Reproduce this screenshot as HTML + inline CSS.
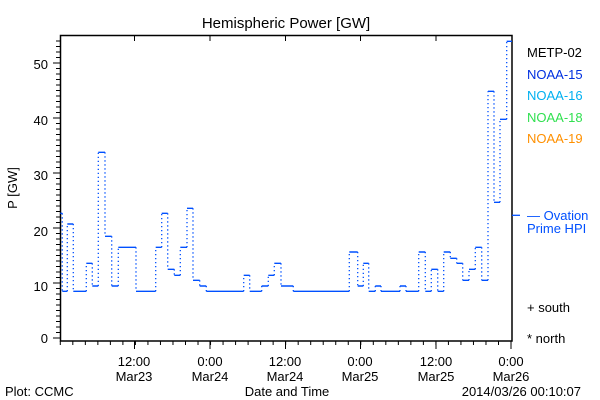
<!DOCTYPE html>
<html><head><meta charset="utf-8"><style>
html,body{margin:0;padding:0;background:#fff;}
svg{display:block;font-family:"Liberation Sans",sans-serif;}
</style></head><body>
<svg width="600" height="400" viewBox="0 0 600 400" xmlns="http://www.w3.org/2000/svg">
<rect width="600" height="400" fill="#fff"/>
<text x="286" y="28" font-size="15" text-anchor="middle">Hemispheric Power [GW]</text>
<rect x="60.5" y="35.5" width="451.5" height="305.5" fill="none" stroke="#000" stroke-width="1.5"/>
<line x1="58" y1="338.5" x2="58" y2="36" stroke="#000" stroke-width="4" stroke-dasharray="1 4.5"/>
<path d="M53 338H60M53 283H60M53 228H60M53 173H60M53 118H60M53 63H60" stroke="#000" stroke-width="1"/>
<line x1="59.8" y1="343" x2="513" y2="343" stroke="#000" stroke-width="4" stroke-dasharray="1 11.52"/>
<path d="M134.5 341V349M210 341V349M285.5 341V349M360.5 341V349M436 341V349M511 341V349M134.5 35V41M210 35V41M285.5 35V41M360.5 35V41M436 35V41" stroke="#000" stroke-width="1"/>
<g font-size="13" text-anchor="end">
<text x="48" y="343">0</text><text x="48" y="291">10</text><text x="48" y="236">20</text>
<text x="48" y="180">30</text><text x="48" y="125">40</text><text x="48" y="69">50</text>
</g>
<text transform="translate(17,188) rotate(-90)" font-size="13" text-anchor="middle">P [GW]</text>
<g font-size="13" text-anchor="middle">
<text x="134" y="366">12:00</text><text x="134" y="381">Mar23</text>
<text x="210" y="366">0:00</text><text x="210" y="381">Mar24</text>
<text x="285" y="366">12:00</text><text x="285" y="381">Mar24</text>
<text x="360" y="366">0:00</text><text x="360" y="381">Mar25</text>
<text x="436" y="366">12:00</text><text x="436" y="381">Mar25</text>
<text x="511" y="366">0:00</text><text x="511" y="381">Mar26</text>
<text x="287" y="396">Date and Time</text>
</g>
<text x="5" y="396" font-size="13">Plot: CCMC</text>
<text x="581" y="396" font-size="13" text-anchor="end">2014/03/26 00:10:07</text>
<g font-size="13">
<text x="527" y="57" fill="#000">METP-02</text>
<text x="527" y="79" fill="#0030e0">NOAA-15</text>
<text x="527" y="100" fill="#00b0f0">NOAA-16</text>
<text x="527" y="122" fill="#30e050">NOAA-18</text>
<text x="527" y="143" fill="#ff9000">NOAA-19</text>
<text x="527" y="220" fill="#0050ff">— Ovation</text>
<text x="527" y="233" fill="#0050ff">Prime HPI</text>
<text x="527" y="312" fill="#000">+ south</text>
<text x="527" y="343" fill="#000">* north</text>
</g>
<line x1="512" y1="215.3" x2="520" y2="215.3" stroke="#0050ff" stroke-width="1.3"/>
<path fill="none" stroke="#0050ff" stroke-width="1.4" d="M60.3 213.3H62.3M62.3 291.3H67.3M67.3 224H73.3M73.3 291.3H86.3M86.3 263.3H92.3M92.3 286H98.3M98.3 152.3H105M105 236.3H111.7M111.7 286H118.3M118.3 247.3H136M136 291.3H155.7M155.7 247.3H161.7M161.7 213.3H167.7M167.7 269.3H174.3M174.3 275.3H180.3M180.3 247.3H187M187 208.3H193M193 280.3H199.7M199.7 286H206.3M206.3 291.3H243.7M243.7 275.3H249.7M249.7 291.3H261.7M261.7 286H268.3M268.3 275.3H274.3M274.3 263.3H281M281 286H293.3M293.3 291.3H349.3M349.3 252H357.7M357.7 286H363.3M363.3 263.3H368.7M368.7 291.3H375.3M375.3 286H381M381 291.3H400M400 286H406M406 291.3H418.7M418.7 252H425.3M425.3 291.3H431.3M431.3 269.3H437.7M437.7 291.3H443.7M443.7 252H450.3M450.3 258.3H456.7M456.7 263.3H462.7M462.7 280.3H469M469 269.3H475.3M475.3 247.3H481.7M481.7 280.3H488M488 91.3H494M494 202.3H500M500 119.3H506.7M506.7 41.3H512"/>
<path fill="none" stroke="#0050ff" stroke-width="1.3" stroke-dasharray="1.3 2.7" d="M62.3 213.3V291.3M67.3 291.3V224M73.3 224V291.3M86.3 291.3V263.3M92.3 263.3V286M98.3 286V152.3M105 152.3V236.3M111.7 236.3V286M118.3 286V247.3M136 247.3V291.3M155.7 291.3V247.3M161.7 247.3V213.3M167.7 213.3V269.3M174.3 269.3V275.3M180.3 275.3V247.3M187 247.3V208.3M193 208.3V280.3M199.7 280.3V286M206.3 286V291.3M243.7 291.3V275.3M249.7 275.3V291.3M261.7 291.3V286M268.3 286V275.3M274.3 275.3V263.3M281 263.3V286M293.3 286V291.3M349.3 291.3V252M357.7 252V286M363.3 286V263.3M368.7 263.3V291.3M375.3 291.3V286M381 286V291.3M400 291.3V286M406 286V291.3M418.7 291.3V252M425.3 252V291.3M431.3 291.3V269.3M437.7 269.3V291.3M443.7 291.3V252M450.3 252V258.3M456.7 258.3V263.3M462.7 263.3V280.3M469 280.3V269.3M475.3 269.3V247.3M481.7 247.3V280.3M488 280.3V91.3M494 91.3V202.3M500 202.3V119.3M506.7 119.3V41.3"/>
</svg>
</body></html>
